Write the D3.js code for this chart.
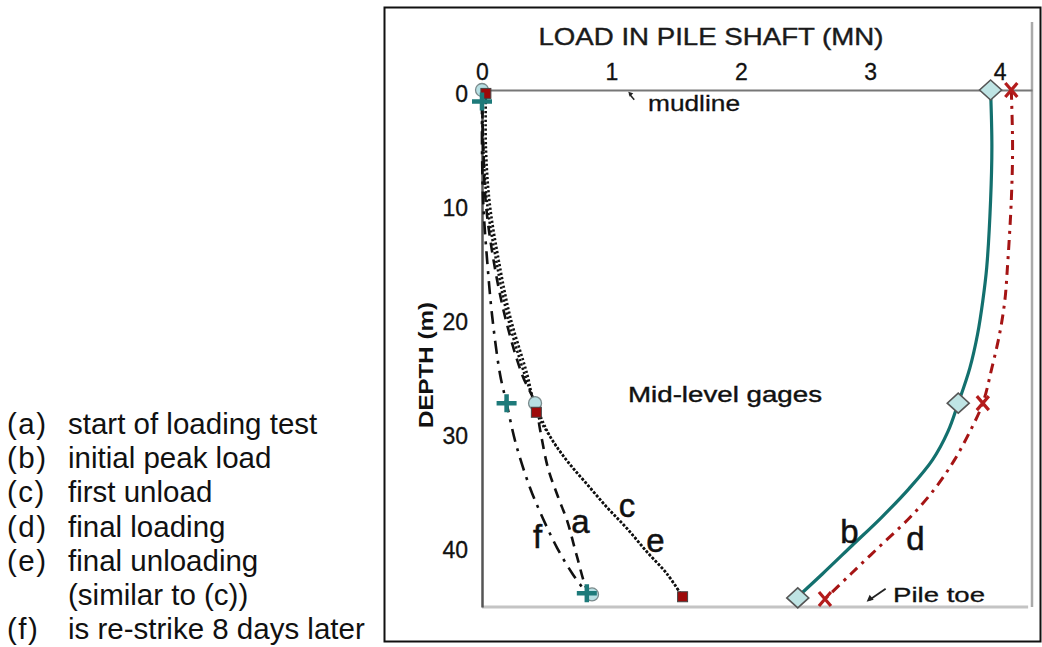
<!DOCTYPE html>
<html><head><meta charset="utf-8">
<script src="https://cdn.jsdelivr.net/npm/d3@7/dist/d3.min.js"></script>
<style>
html,body{margin:0;padding:0;background:#fff;}
svg{display:block;font-family:"Liberation Sans",Arial,sans-serif;}
</style></head>
<body>
<svg id="chart" width="1042" height="647"></svg>
<script>
// ---- data (load in MN, depth in m) ----
const xTicks = [0, 1, 2, 3, 4];
const yTicks = [0, 10, 20, 30, 40];

const aDepth = [0, 5, 10, 15, 20, 25, 27.5, 29.9, 33.2, 35.8, 37.9, 40.8, 43.8, 44.3];
const aLoad  = [0, 0.01, 0.03, 0.09, 0.18, 0.31, 0.41, 0.45, 0.51, 0.59, 0.66, 0.73, 0.81, 0.85];

const bDepth = [0, 5, 9.7, 15.6, 18.5, 21.4, 24.4, 27.5, 30, 32.5, 35, 37.5, 40, 42.5, 44.5];
const bLoad  = [3.93, 3.94, 3.93, 3.90, 3.87, 3.83, 3.77, 3.68, 3.60, 3.48, 3.30, 3.09, 2.86, 2.63, 2.44];

const cDepth = [0, 5, 10, 15, 20, 25, 27.5, 30.5, 32.6, 34.6, 36.7, 38.5, 40.5, 42.5, 44.5];
const cLoad  = [0, 0.01, 0.04, 0.11, 0.20, 0.33, 0.41, 0.53, 0.66, 0.81, 0.97, 1.12, 1.27, 1.43, 1.55];

const dDepth = [0, 5, 9.7, 15.6, 18.5, 21.4, 24.4, 27.5, 30, 32.5, 35, 37.5, 40, 42.5, 44.7];
const dLoad  = [4.09, 4.10, 4.09, 4.06, 4.04, 4.00, 3.94, 3.87, 3.77, 3.65, 3.50, 3.31, 3.08, 2.85, 2.65];

const eDepth = [0.3, 5, 10, 15, 20, 25, 28.3, 30.5, 32.6, 34.6, 36.7, 38.5, 40.5, 42.5, 44.5];
const eLoad  = [0.03, 0.03, 0.06, 0.13, 0.22, 0.35, 0.42, 0.53, 0.66, 0.81, 0.97, 1.12, 1.27, 1.43, 1.55];

const fDepth = [1, 5, 10, 15, 20, 25, 27.5, 31, 34.9, 37.6, 40.2, 42.5, 44.2];
const fLoad  = [0, 0.0, 0.01, 0.04, 0.08, 0.14, 0.19, 0.26, 0.37, 0.47, 0.58, 0.70, 0.81];

// marker points (gage readings): [load, depth]
const aMarks = [[0, 0], [0.41, 27.5], [0.85, 44.3]];
const eMarks = [[0.03, 0.3], [0.42, 28.3], [1.55, 44.5]];
const fMarks = [[0, 1.0], [0.19, 27.5], [0.81, 44.2]];
const bMarks = [[3.93, 0], [3.68, 27.5], [2.44, 44.6]];
const dMarks = [[4.09, 0], [3.87, 27.5], [2.65, 44.7]];

const curveLabels = ["a", "b", "c", "d", "e", "f"];
const curveLabelPos = [[0.76, 38.9], [2.84, 39.8], [1.12, 37.5], [3.35, 40.4], [1.34, 40.6], [0.43, 40.2]];

const legendKeys = ["(a)", "(b)", "(c)", "(d)", "(e)", "", "(f)"];
const legendTexts = ["start of loading test", "initial peak load", "first unload", "final loading",
                     "final unloading", "(similar to (c))", "is re-strike 8 days later"];

// ---- scales ----
const svg = d3.select("#chart");
const x = d3.scaleLinear().domain([0, 4.25]).range([482, 1032]);
const y = d3.scaleLinear().domain([0, 45.4]).range([90, 607]);

// outer frame
svg.append("rect").attr("x", 384.5).attr("y", 7.5).attr("width", 656).attr("height", 634)
  .attr("fill", "none").attr("stroke", "#111").attr("stroke-width", 2);

// right and bottom plot borders
svg.append("line").attr("x1", x(4.25)).attr("x2", x(4.25)).attr("y1", 22).attr("y2", y(45.4))
  .attr("stroke", "#aaa").attr("stroke-width", 2.5);
svg.append("line").attr("x1", x(0)).attr("x2", x(4.22)).attr("y1", y(45.4)).attr("y2", y(45.4))
  .attr("stroke", "#c4c4c4").attr("stroke-width", 3);

// top axis
const gx = svg.append("g").attr("transform", `translate(0,${y(0)})`)
  .call(d3.axisTop(x).tickValues(xTicks).tickFormat(d3.format("d")).tickSize(0).tickSizeOuter(0).tickPadding(10));
gx.select(".domain").attr("stroke", "#777").attr("stroke-width", 2);
gx.selectAll("text").attr("font-size", 23).attr("fill", "#111").attr("stroke", "#111").attr("stroke-width", 0.3)
  .attr("font-family", "Liberation Sans, Arial, sans-serif");

// left axis
const gy = svg.append("g").attr("transform", `translate(${x(0)},0)`)
  .call(d3.axisLeft(y).tickValues(yTicks).tickFormat(d3.format("d")).tickSize(0).tickSizeOuter(0).tickPadding(14));
gy.select(".domain").attr("stroke", "#555").attr("stroke-width", 2.5);
gy.selectAll("text").attr("font-size", 23).attr("fill", "#111").attr("stroke", "#111").attr("stroke-width", 0.3)
  .attr("dy", "0.52em").attr("font-family", "Liberation Sans, Arial, sans-serif");

// titles
svg.append("text").attr("x", 711).attr("y", 45).attr("text-anchor", "middle")
  .attr("font-size", 24).attr("fill", "#1a1a1a").attr("stroke", "#1a1a1a").attr("stroke-width", 0.4)
  .attr("textLength", 345).attr("lengthAdjust", "spacingAndGlyphs")
  .text("LOAD IN PILE SHAFT (MN)");
svg.append("text").attr("transform", "translate(433,365) rotate(-90)").attr("text-anchor", "middle")
  .attr("font-size", 20).attr("font-weight", "bold").attr("fill", "#111")
  .attr("textLength", 126).attr("lengthAdjust", "spacingAndGlyphs").text("DEPTH (m)");

// lines
const line = d3.line().x(d => x(d[0])).y(d => y(d[1])).curve(d3.curveCatmullRom.alpha(0.5));
const zip = (L, D) => L.map((v, i) => [v, D[i]]);

svg.append("path").datum(zip(cLoad, cDepth)).attr("d", line).attr("fill", "none")
  .attr("stroke", "#111").attr("stroke-width", 2.6).attr("stroke-dasharray", "2.2,2.2");
svg.append("path").datum(zip(eLoad, eDepth)).attr("d", line).attr("fill", "none")
  .attr("stroke", "#111").attr("stroke-width", 2.6).attr("stroke-dasharray", "2.2,2.2");
svg.append("path").datum(zip(aLoad, aDepth)).attr("d", line).attr("fill", "none")
  .attr("stroke", "#111").attr("stroke-width", 2.6).attr("stroke-dasharray", "10,7");
svg.append("path").datum(zip(fLoad, fDepth)).attr("d", line).attr("fill", "none")
  .attr("stroke", "#111").attr("stroke-width", 2.6).attr("stroke-dasharray", "13,7,3,7");
svg.append("path").datum(zip(bLoad, bDepth)).attr("d", line).attr("fill", "none")
  .attr("stroke", "#13706e").attr("stroke-width", 3.2);
svg.append("path").datum(zip(dLoad, dDepth)).attr("d", line).attr("fill", "none")
  .attr("stroke", "#a51414").attr("stroke-width", 3).attr("stroke-dasharray", "10,6,3,6");

// markers
const mk = svg.append("g");
mk.selectAll(".circ").data(aMarks).join("circle")
  .attr("cx", d => x(d[0])).attr("cy", d => y(d[1])).attr("r", 6.5)
  .attr("fill", "#b7dfe3").attr("stroke", "#7a8a8c").attr("stroke-width", 1.3);
mk.selectAll(".sq").data(eMarks).join("rect")
  .attr("x", d => x(d[0]) - 5).attr("y", d => y(d[1]) - 5).attr("width", 10).attr("height", 10)
  .attr("fill", "#9d0a0a").attr("stroke", "#444").attr("stroke-width", 1);
mk.selectAll(".plus").data(fMarks).join("path")
  .attr("transform", d => `translate(${x(d[0])},${y(d[1])})`)
  .attr("d", "M-10,0H10M0,-9V9").attr("stroke", "#1d7a7a").attr("stroke-width", 4.5).attr("fill", "none");
mk.selectAll(".dia").data(bMarks).join("path")
  .attr("transform", d => `translate(${x(d[0])},${y(d[1])})`)
  .attr("d", "M0,-10L11,0L0,10L-11,0Z")
  .attr("fill", "#bfe4e4").attr("stroke", "#555").attr("stroke-width", 1.6);
mk.selectAll(".xx").data(dMarks).join("path")
  .attr("transform", d => `translate(${x(d[0])},${y(d[1])})`)
  .attr("d", "M-6,-7L6,7M6,-7L-6,7").attr("stroke", "#b41c1c").attr("stroke-width", 3.2).attr("fill", "none");

// curve letters
svg.selectAll(".clab").data(curveLabels).join("text")
  .attr("x", (d, i) => x(curveLabelPos[i][0])).attr("y", (d, i) => y(curveLabelPos[i][1]))
  .attr("text-anchor", "middle").attr("font-size", 33).attr("fill", "#111")
  .attr("stroke", "#111").attr("stroke-width", 0.5).text(d => d);

// annotations
svg.append("text").attr("x", 725).attr("y", 402).attr("text-anchor", "middle")
  .attr("font-size", 22).attr("fill", "#111").attr("stroke", "#111").attr("stroke-width", 0.4)
  .attr("textLength", 194).attr("lengthAdjust", "spacingAndGlyphs").text("Mid-level gages");
svg.append("text").attr("x", 648).attr("y", 111)
  .attr("font-size", 22).attr("fill", "#111").attr("stroke", "#111").attr("stroke-width", 0.3)
  .attr("textLength", 92).attr("lengthAdjust", "spacingAndGlyphs").text("mudline");
svg.append("text").attr("x", 893).attr("y", 602)
  .attr("font-size", 21).attr("fill", "#111").attr("stroke", "#111").attr("stroke-width", 0.3)
  .attr("textLength", 92).attr("lengthAdjust", "spacingAndGlyphs").text("Pile toe");

// mudline arrow
const mx = x(1.13), my = y(0.15);
svg.append("line").attr("x1", mx + 6).attr("y1", my + 8).attr("x2", mx + 1).attr("y2", my + 2)
  .attr("stroke", "#222").attr("stroke-width", 1.5);
svg.append("path").attr("d", `M${mx},${my}l5,1.5l-3.5,3.5z`).attr("fill", "#222");
// pile toe arrow
const px = x(2.98), py = y(44.85);
svg.append("line").attr("x1", px + 18).attr("y1", py - 12).attr("x2", px + 2).attr("y2", py - 1)
  .attr("stroke", "#222").attr("stroke-width", 1.8);
svg.append("path").attr("d", `M${px - 1},${py + 1}l3,-7l4,5z`).attr("fill", "#222");

// legend text (left side)
const lg = svg.append("g").attr("font-size", 29.5).attr("fill", "#111");
legendKeys.forEach((k, i) => {
  const yy = 434 + i * 34.2;
  lg.append("text").attr("x", 7).attr("y", yy).attr("letter-spacing", 1.5).text(k);
  lg.append("text").attr("x", 68).attr("y", yy).text(legendTexts[i]);
});
</script>
</body></html>
